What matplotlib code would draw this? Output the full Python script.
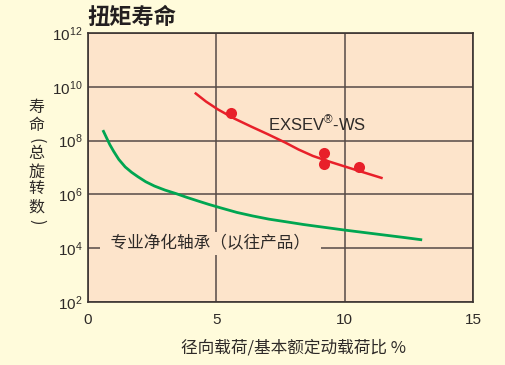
import matplotlib
matplotlib.use("Agg")
import matplotlib.pyplot as plt
import numpy as np
from matplotlib.ticker import FixedLocator, FuncFormatter

# Values (y values stored as log10 of revolutions)
exsev_curve_x = [4.16, 4.6, 5.06, 5.7, 6.36, 7.0, 7.7, 8.2, 8.76, 9.4,
                 10.03, 10.7, 11.48]
exsev_curve_logy = [9.78, 9.45, 9.16, 8.82, 8.52, 8.24, 7.92, 7.67, 7.43,
                    7.22, 7.03, 6.83, 6.60]

exsev_test_x = [5.58, 9.21, 9.21, 10.57]
exsev_test_logy = [9.04, 7.55, 7.13, 7.03]

old_curve_x = [0.58, 0.7, 0.85, 1.0, 1.2, 1.45, 1.7, 1.94, 2.25, 2.59, 3.0,
               3.43, 3.85, 4.27, 4.7, 5.13, 5.8, 6.41, 7.05, 7.73, 8.4,
               9.02, 10.03, 11.54, 12.3, 13.02]
old_curve_logy = [8.39, 8.15, 7.85, 7.6, 7.3, 7.02, 6.82, 6.66, 6.47, 6.31,
                  6.16, 6.03, 5.89, 5.76, 5.63, 5.51, 5.33, 5.20, 5.08, 4.98,
                  4.88, 4.80, 4.67, 4.49, 4.40, 4.31]

x_ticks = [0, 5, 10, 15]
y_tick_exps = [2, 4, 6, 8, 10, 12]

title = "扭矩寿命"
x_label = "径向载荷/基本额定动载荷比 %"
y_label_chars = ["寿", "命", "(", "总", "旋", "转", "数", ")"]
exsev_label = r"EXSEV$^{\mathrm{®}}$-WS"
old_label = "  专业净化轴承（以往产品）  "

FIG_BG = "#fffbdb"
AX_BG = "#fde4cb"
GRID = "#554a46"
RED = "#e8202a"
GREEN = "#00a651"
TEXT = "#2e2a28"
CJK = ["Noto Sans CJK SC", "DejaVu Sans"]

plt.rcParams["font.family"] = ["Liberation Sans", "DejaVu Sans"]
plt.rcParams["mathtext.fontset"] = "custom"
plt.rcParams["mathtext.rm"] = "Liberation Sans"
plt.rcParams["mathtext.it"] = "Liberation Sans:italic"
plt.rcParams["mathtext.bf"] = "Liberation Sans:bold"

fig = plt.figure(figsize=(5.06, 3.65), dpi=100, facecolor=FIG_BG)
ax = fig.add_axes([88 / 506, 1 - 302 / 365, 385 / 506, 269 / 365])
ax.set_facecolor(AX_BG)

ax.set_yscale("log")
ax.set_xlim(0, 15)
ax.set_ylim(1e2, 1e12)

ax.xaxis.set_major_locator(FixedLocator(x_ticks))
ax.yaxis.set_major_locator(FixedLocator([10.0 ** e for e in y_tick_exps]))
ax.yaxis.set_minor_locator(FixedLocator([]))
ax.yaxis.set_major_formatter(
    FuncFormatter(lambda v, _: r"$10^{%d}$" % round(np.log10(v))))
ax.tick_params(axis="both", length=0, labelsize=11, labelcolor=TEXT)
ax.tick_params(axis="x", pad=8)
ax.tick_params(axis="y", pad=4)

ax.grid(True, color=GRID, linewidth=1.1)
ax.set_axisbelow(True)
for sp in ax.spines.values():
    sp.set_color("#3b3331")
    sp.set_linewidth(1.2)

# curves
ax.plot(old_curve_x, 10.0 ** np.array(old_curve_logy), color=GREEN,
        linewidth=2.0, solid_capstyle="butt", solid_joinstyle="round",
        zorder=3)
ax.plot(exsev_curve_x, 10.0 ** np.array(exsev_curve_logy), color=RED,
        linewidth=1.8, solid_capstyle="butt", solid_joinstyle="round",
        zorder=3)
ax.plot(exsev_test_x, 10.0 ** np.array(exsev_test_logy), "o", color=RED,
        markersize=8, markeredgewidth=0, zorder=4)

# labels inside the plot
ax.text(7.0, 10 ** 8.65, exsev_label, fontsize=12, color=TEXT,
        ha="left", va="center", zorder=5)
ax.text(4.78, 10 ** 4.18, old_label, fontsize=12, color=TEXT,
        family=CJK, ha="center", va="center", zorder=5,
        bbox=dict(boxstyle="square,pad=0.2", fc=AX_BG, ec="none"))

# title, axis labels
fig.text(87 / 506, 1 - 17 / 365, title, fontsize=16, fontweight="bold",
         color="#231f20", family=CJK, ha="left", va="center")
fig.text(294 / 506, 1 - 348 / 365, x_label, fontsize=12, color=TEXT,
         family=CJK, ha="center", va="center")

y_centers = [107.5, 125.5, 141, 153.5, 172, 189, 207, 222]
for ch, yc in zip(y_label_chars, y_centers):
    rot = 270 if ch in "()" else 0
    fig.text(36.5 / 506, 1 - yc / 365, ch, fontsize=11.5, color=TEXT,
             family=CJK, ha="center", va="center", rotation=rot,
             rotation_mode="anchor")

fig.savefig("out.png", dpi=100, facecolor=FIG_BG)
